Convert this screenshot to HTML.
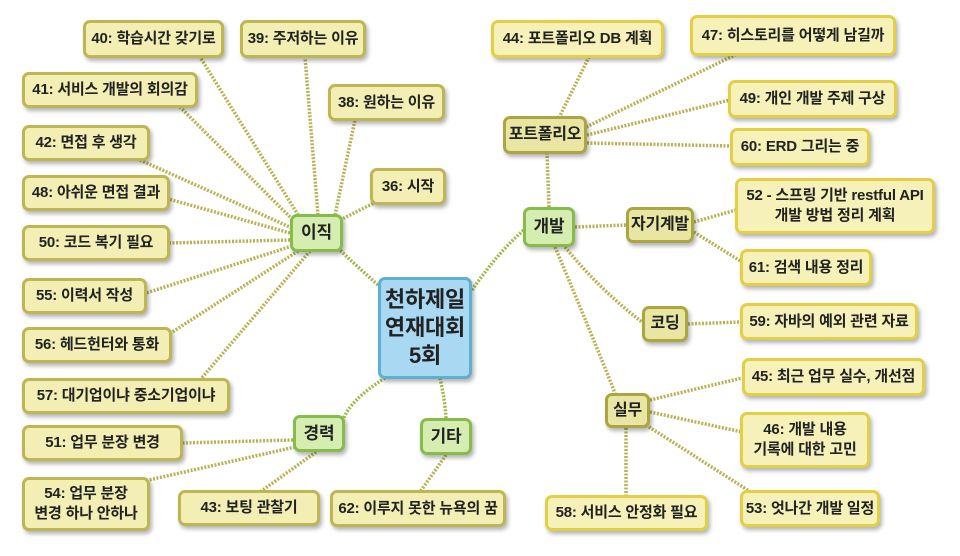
<!DOCTYPE html>
<html><head><meta charset="utf-8"><style>
body{margin:0;width:960px;height:556px;background:#fff;position:relative;overflow:hidden;font-family:"Liberation Sans","Noto Sans CJK KR",sans-serif;font-weight:bold;color:#222}
svg{position:absolute;left:0;top:0}
.b{position:absolute;box-sizing:border-box;display:flex;align-items:center;justify-content:center;text-align:center;border-radius:7px;font-size:15px;line-height:20px;box-shadow:2px 3px 4px rgba(0,0,0,.3);white-space:nowrap;letter-spacing:-0.2px}
.l{background:#f3eeb4;border:3px solid #bdb652}
.r{background:#f6f1b8;border:3px solid #e2cf45}
.s{background:#e9e6a4;border:3px solid #aaa642;font-size:16px}
.g{background:#d5edb1;border:3px solid #87bb4a;font-size:17px}
.c{background:#a8d8f2;border:3px solid #5fb0d0;font-size:22px;line-height:28px}
</style></head><body>
<svg width="960" height="556">
<g fill="none" stroke="#a3b84e" stroke-width="3.5" stroke-dasharray="2 1.5">
<path d="M378 285 Q350 260 340 250"/>
<path d="M472 290 Q500 250 524 230"/>
<path d="M385 378 Q350 400 343 420"/>
<path d="M440 378 Q445 400 446 418"/>
</g>
<g fill="none" stroke="#b7b255" stroke-width="3.5" stroke-dasharray="2 1.5">
<path d="M300 218 L200 57"/><path d="M318 215 L305 57"/>
<path d="M295 222 L180 107"/><path d="M335 215 L355 120"/>
<path d="M292 228 L140 160"/><path d="M340 220 L380 200"/>
<path d="M290 233 L165 198"/><path d="M290 240 L170 243"/>
<path d="M292 246 L140 295"/><path d="M298 251 L160 340"/>
<path d="M310 251 L200 380"/>
<path d="M293 440 L183 443"/><path d="M295 447 L140 482"/>
<path d="M316 452 L260 492"/><path d="M446 455 L420 492"/>
<path d="M549 207 L547 153"/><path d="M575 227 L626 225"/>
<path d="M565 247 Q600 290 642 322"/><path d="M555 247 Q590 330 615 393"/>
<path d="M548 140 L590 55"/><path d="M580 130 L735 55"/>
<path d="M587 135 L730 100"/><path d="M587 143 L732 146"/>
<path d="M694 222 L736 210"/><path d="M694 232 L742 262"/>
<path d="M688 324 L740 322"/>
<path d="M650 400 L742 378"/><path d="M650 412 L742 432"/>
<path d="M646 425 L760 498"/><path d="M626 428 L626 497"/>
</g>
</svg>
<div class="b l" style="left:83px;top:20px;width:141px;height:38px">40: 학습시간 갖기로</div>
<div class="b l" style="left:240px;top:20px;width:126px;height:38px">39: 주저하는 이유</div>
<div class="b l" style="left:22px;top:72px;width:176px;height:36px">41: 서비스 개발의 회의감</div>
<div class="b l" style="left:328px;top:84px;width:117px;height:37px">38: 원하는 이유</div>
<div class="b l" style="left:22px;top:125px;width:128px;height:36px">42: 면접 후 생각</div>
<div class="b l" style="left:370px;top:168px;width:76px;height:37px">36: 시작</div>
<div class="b l" style="left:22px;top:175px;width:148px;height:36px">48: 아쉬운 면접 결과</div>
<div class="b l" style="left:22px;top:225px;width:148px;height:36px">50: 코드 복기 필요</div>
<div class="b l" style="left:22px;top:278px;width:125px;height:36px">55: 이력서 작성</div>
<div class="b l" style="left:22px;top:327px;width:150px;height:36px">56: 헤드헌터와 통화</div>
<div class="b l" style="left:22px;top:378px;width:208px;height:36px">57: 대기업이냐 중소기업이냐</div>
<div class="b l" style="left:22px;top:425px;width:161px;height:36px">51: 업무 분장 변경</div>
<div class="b l" style="left:22px;top:477px;width:128px;height:54px">54: 업무 분장<br>변경 하나 안하나</div>
<div class="b l" style="left:178px;top:490px;width:142px;height:36px">43: 보팅 관찰기</div>
<div class="b l" style="left:330px;top:490px;width:176px;height:37px">62: 이루지 못한 뉴욕의 꿈</div>
<div class="b r" style="left:491px;top:20px;width:173px;height:38px">44: 포트폴리오 DB 계획</div>
<div class="b r" style="left:690px;top:15px;width:206px;height:41px">47: 히스토리를 어떻게 남길까</div>
<div class="b r" style="left:728px;top:80px;width:169px;height:38px">49: 개인 개발 주제 구상</div>
<div class="b r" style="left:730px;top:128px;width:140px;height:38px">60: ERD 그리는 중</div>
<div class="b r" style="left:735px;top:178px;width:200px;height:56px">52 - 스프링 기반 restful API<br>개발 방법 정리 계획</div>
<div class="b r" style="left:740px;top:249px;width:132px;height:37px">61: 검색 내용 정리</div>
<div class="b r" style="left:740px;top:303px;width:178px;height:37px">59: 자바의 예외 관련 자료</div>
<div class="b r" style="left:742px;top:358px;width:183px;height:38px">45: 최근 업무 실수, 개선점</div>
<div class="b r" style="left:740px;top:412px;width:130px;height:56px">46: 개발 내용<br>기록에 대한 고민</div>
<div class="b r" style="left:740px;top:490px;width:140px;height:37px">53: 엇나간 개발 일정</div>
<div class="b r" style="left:545px;top:495px;width:163px;height:36px">58: 서비스 안정화 필요</div>
<div class="b s" style="left:503px;top:116px;width:84px;height:38px">포트폴리오</div>
<div class="b s" style="left:626px;top:207px;width:68px;height:36px">자기계발</div>
<div class="b s" style="left:642px;top:306px;width:46px;height:36px">코딩</div>
<div class="b s" style="left:605px;top:393px;width:45px;height:35px">실무</div>
<div class="b g" style="left:290px;top:214px;width:53px;height:38px">이직</div>
<div class="b g" style="left:523px;top:207px;width:52px;height:40px">개발</div>
<div class="b g" style="left:293px;top:415px;width:52px;height:37px">경력</div>
<div class="b g" style="left:420px;top:418px;width:52px;height:37px">기타</div>
<div class="b c" style="left:378px;top:277px;width:94px;height:102px">천하제일<br>연재대회<br>5회</div>
</body></html>
